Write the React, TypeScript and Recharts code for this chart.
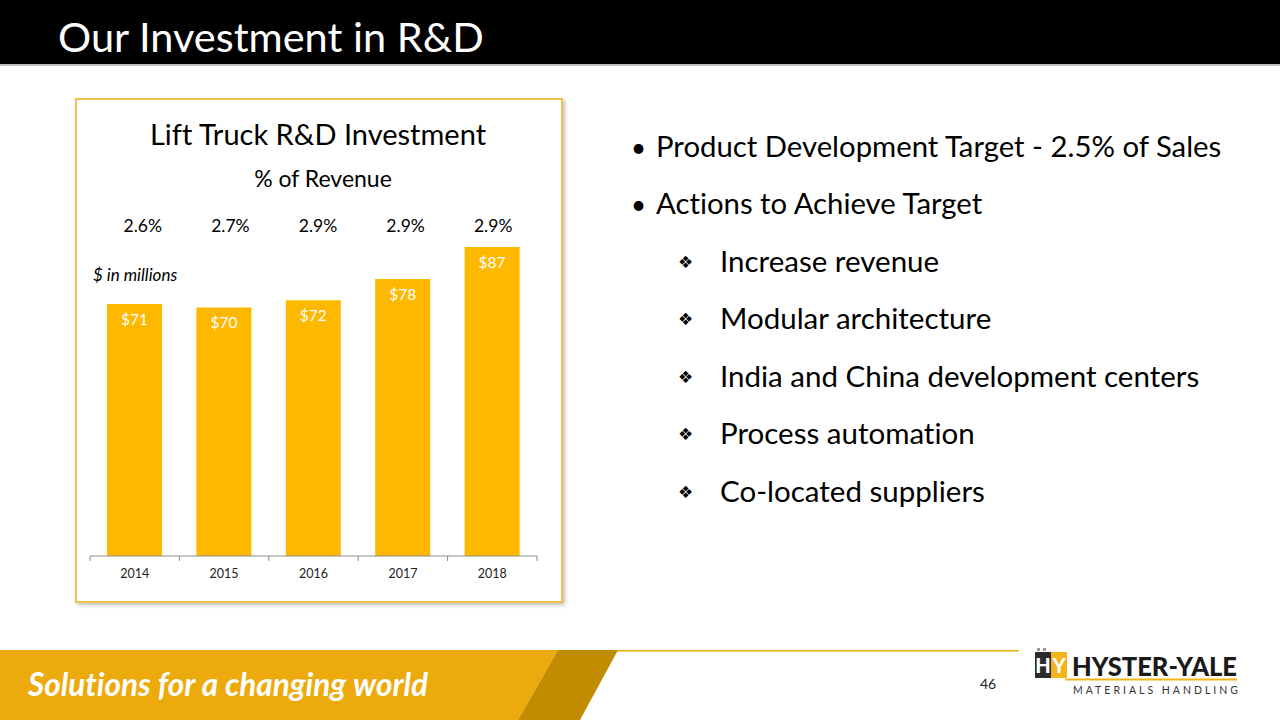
import React from 'react';
import { BarChart, Bar, XAxis, YAxis, LabelList } from 'recharts';

const years = ['2014', '2015', '2016', '2017', '2018'];
const investment = [71, 70, 72, 78, 87];
const pctOfRevenue = ['2.6%', '2.7%', '2.9%', '2.9%', '2.9%'];

const mainBullets = ['Product Development Target - 2.5% of Sales', 'Actions to Achieve Target'];
const subBullets = [
  'Increase revenue',
  'Modular architecture',
  'India and China development centers',
  'Process automation',
  'Co-located suppliers',
];

const data = years.map((y, i) => ({ year: y, value: investment[i], pct: pctOfRevenue[i] }));

const FONT = 'Lato, "Open Sans", sans-serif';
const GOLD = '#FFB800';

type TProps = {
  x: number;
  baseline: number;
  size: number;
  children: React.ReactNode;
  weight?: number;
  italic?: boolean;
  color?: string;
  center?: boolean;
  spacing?: number;
  family?: string;
};

const T = ({ x, baseline, size, children, weight = 400, italic = false, color = '#000', center = false, spacing = 0, family = FONT }: TProps) => (
  <div
    style={{
      position: 'absolute',
      left: x,
      top: baseline - 0.887 * size,
      fontSize: size,
      lineHeight: 1,
      fontFamily: family,
      fontWeight: weight,
      fontStyle: italic ? 'italic' : 'normal',
      fontVariantLigatures: 'none',
      color,
      whiteSpace: 'nowrap',
      letterSpacing: spacing,
      transform: center ? 'translateX(-50%)' : undefined,
    }}
  >
    {children}
  </div>
);

const BottomTick = (props: any) => {
  const { x, y, payload, index, visibleTicksCount, width } = props;
  const half = payload && payload.offset ? payload.offset : width / (2 * visibleTicksCount);
  const isLast = index === visibleTicksCount - 1;
  return (
    <g>
      <line x1={x - half} x2={x - half} y1={y} y2={y + 5} stroke="#8c8c8c" strokeWidth={1} />
      {isLast && <line x1={x + half} x2={x + half} y1={y} y2={y + 5} stroke="#8c8c8c" strokeWidth={1} />}
      <text x={x} y={y + 22} textAnchor="middle" fontSize={12.5} fontFamily={FONT} fill="#222">
        {payload.value}
      </text>
    </g>
  );
};

const Chart = () => (
  <BarChart
    width={488}
    height={505}
    data={data}
    margin={{ top: 112, right: 26, bottom: 17, left: 15 }}
  >
    <XAxis
      xAxisId="top"
      orientation="top"
      dataKey="year"
      height={30}
      padding={{ left: 9, right: 0 }}
      axisLine={false}
      tickLine={false}
      tickSize={6}
      tickMargin={2}
      tickFormatter={(_v: any, i: number) => pctOfRevenue[i]}
      tick={{ fontSize: 17.5, fontFamily: FONT, fill: '#000' }}
    />
    <XAxis
      dataKey="year"
      height={30}
      axisLine={{ stroke: '#8c8c8c', strokeWidth: 1 }}
      tickLine={false}
      tickSize={0}
      tickMargin={0}
      tick={<BottomTick />}
      interval={0}
    />
    <YAxis hide domain={[0, 89]} allowDataOverflow />
    <Bar dataKey="value" fill={GOLD} barSize={55} isAnimationActive={false}>
      <LabelList
        dataKey="value"
        position="insideTop"
        offset={10}
        formatter={(v: any) => `$${v}`}
        style={{ fill: '#fff', fontSize: 15.5, fontFamily: FONT }}
      />
    </Bar>
  </BarChart>
);

const Logo = () => (
  <svg width={250} height={62} style={{ position: 'absolute', left: 1020, top: 640 }}>
    <rect x={15} y={12} width={16} height={26} fill="#2b2b2b" />
    <rect x={31} y={12} width={16} height={26} fill="#F2B31B" />
    <rect x={17} y={8} width={3} height={3} fill="#999" />
    <rect x={23} y={8} width={3} height={3} fill="#999" />
    <text x={23} y={33} textAnchor="middle" fontSize={20} fontWeight={900} fontFamily={FONT} fill="#fff">H</text>
    <text x={39} y={33} textAnchor="middle" fontSize={20} fontWeight={900} fontFamily={FONT} fill="#fff">Y</text>
    <text x={52} y={36} fontSize={26} fontWeight={900} fontFamily={FONT} fill="#1a1a1a" textLength={165} lengthAdjust="spacingAndGlyphs">HYSTER-YALE</text>
    <line x1={45} x2={217} y1={39.5} y2={39.5} stroke="#F2B31B" strokeWidth={2} />
    <text x={53} y={54} fontSize={10.5} fontFamily={FONT} fill="#333" letterSpacing={3}>MATERIALS HANDLING</text>
  </svg>
);

export default function App() {
  return (
    <div style={{ position: 'absolute', left: 0, top: 0, width: 1280, height: 720, background: '#fff', overflow: 'hidden' }}>
      <div style={{ position: 'absolute', left: 0, top: 0, width: 1280, height: 64, background: '#000' }} />
      <div style={{ position: 'absolute', left: 0, top: 64, width: 1280, height: 2, background: '#bdbdbd' }} />
      <T x={58} baseline={53} size={41.5} color="#fff">Our Investment in R&amp;D</T>

      <div
        style={{
          position: 'absolute',
          left: 75,
          top: 98,
          width: 488,
          height: 505,
          boxSizing: 'border-box',
          border: '2.5px solid #F2C14A',
          boxShadow: '2px 2px 4px rgba(0,0,0,0.25)',
          background: '#fff',
        }}
      />
      <div style={{ position: 'absolute', left: 75, top: 98 }}>
        <Chart />
      </div>
      <T x={318} baseline={145} size={29} center>Lift Truck R&amp;D Investment</T>
      <T x={323} baseline={187} size={23} center>% of Revenue</T>
      <T x={93} baseline={281} size={17} italic>$ in millions</T>

      {mainBullets.map((b, i) => (
        <React.Fragment key={b}>
          <T x={631} baseline={157 + i * 57.3} size={26}>•</T>
          <T x={656} baseline={157 + i * 57.3} size={29.3}>{b}</T>
        </React.Fragment>
      ))}
      {subBullets.map((b, i) => (
        <React.Fragment key={b}>
          <T x={678} baseline={269 + i * 57.5} size={17} family='"DejaVu Sans", sans-serif'>❖</T>
          <T x={720} baseline={272 + i * 57.5} size={29.5}>{b}</T>
        </React.Fragment>
      ))}

      <svg width={1280} height={72} style={{ position: 'absolute', left: 0, top: 648 }}>
        <rect x={0} y={2} width={1019} height={1.5} fill="#EDAA0C" />
        <polygon points="0,2 558,2 518,72 0,72" fill="#EDAA0C" />
        <polygon points="558,2 618,2 580,72 518,72" fill="#C28C00" />
      </svg>
      <T x={28} baseline={697} size={31.5} weight={700} italic color="#fff">Solutions for a changing world</T>
      <T x={980} baseline={689} size={14} color="#222">46</T>
      <Logo />
    </div>
  );
}
